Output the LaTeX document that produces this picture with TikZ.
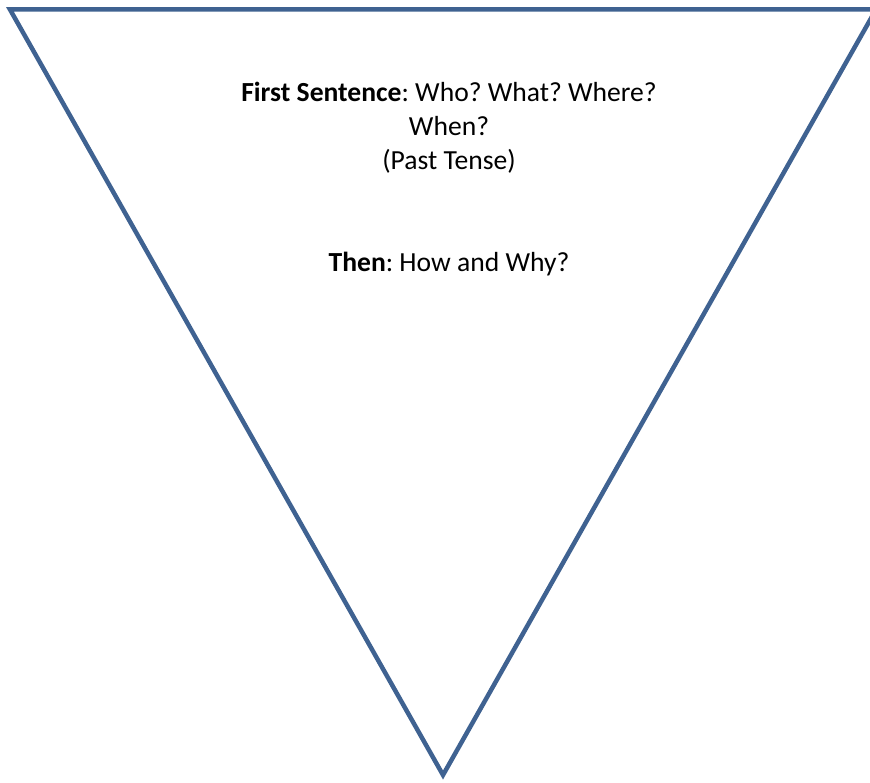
\documentclass[tikz,border=0pt]{standalone}
\usepackage{fontspec}
\setmainfont{Carlito}
\usepackage{xcolor}
\usepackage{tikz}
\usetikzlibrary{positioning}

\definecolor{funnelblue}{RGB}{63,98,145}

\begin{document}
\frenchspacing
\begin{tikzpicture}[
  x=1pt,y=-1pt,
  font=\fontsize{27.6}{34}\selectfont,
  funnel/.style={draw=funnelblue,line width=4.5pt,line join=miter},
  label/.style={align=center,inner sep=0pt},
]
\useasboundingbox (0,0) rectangle (870,783);
\begin{scope}
\clip (0,0) rectangle (870,783);
\coordinate (tl) at (10,9.5);
\coordinate (tr) at (876,9.5);
\coordinate (tip) at (443,775);
\draw[funnel] (tl) -- (tr) -- (tip) -- cycle;
\end{scope}
\node[label] (first) at (449,128) {\textbf{First Sentence}: Who? What? Where?\\When?\\(Past Tense)};
\node[label] (then)  at (449,264) {\textbf{Then}: How and Why?};
\end{tikzpicture}
\end{document}
